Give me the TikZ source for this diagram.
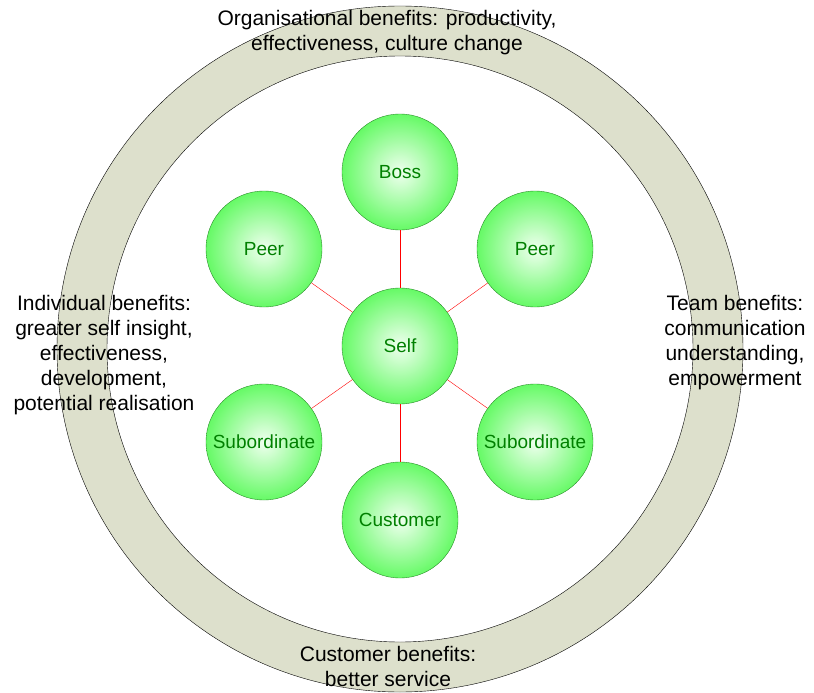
\documentclass[tikz,border=0pt]{standalone}
\usepackage{fontspec}
\setmainfont{Liberation Sans}
\usepackage{tikz}
\usepackage{xcolor}
\usetikzlibrary{calc}
\definecolor{ringfill}{RGB}{221,224,204}
\definecolor{ballgreen}{RGB}{102,250,102}
\definecolor{balltext}{RGB}{0,128,0}
\definecolor{ballline}{RGB}{40,140,40}

\begin{document}
\begin{tikzpicture}[x=1pt,y=-1pt]
        \tikzstyle{ball}=[draw=ballline,circle,minimum size=116pt,inner sep=0pt,
            inner color=green!6!white,outer color=ballgreen,
            text=balltext,font=\fontsize{19}{22}\selectfont]
        \tikzstyle{benefit}=[align=center,inner sep=0pt,font=\fontsize{21}{25}\selectfont]
        \useasboundingbox (0,0) rectangle (814,693);

        % ring
        \coordinate (c) at (400,349);
        \draw[fill=ringfill,even odd rule] (c) circle (343pt) (c) circle (293pt);

        \node[ball] (1) at (400,346) {Self};
        \node[ball] (2) at ($(1)+(0,-174)$) {Boss};
        \node[ball] (3) at ($(1)+(-136,-97)$) {Peer};
        \node[ball] (4) at ($(1)+(135,-97)$) {Peer};
        \node[ball] (5) at ($(1)+(-136,96)$) {Subordinate};
        \node[ball] (6) at ($(1)+(135,96)$) {Subordinate};
        \node[ball] (7) at ($(1)+(0,174)$) {Customer};

        \draw[red] (1) to (2);
        \draw[red] (1) to (3);
        \draw[red] (1) to (4);
        \draw[red] (1) to (5);
        \draw[red] (1) to (6);
        \draw[red] (1) to (7);

        \node[benefit] (8) at (387,33) {Organisational benefits: productivity,\\effectiveness, culture change};
        \node[benefit] (9) at (104,355) {Individual benefits:\\greater self insight,\\effectiveness,\\development,\\potential realisation};
        \node[benefit] (10) at (735,343) {Team benefits:\\communication\\understanding,\\empowerment};
        \node[benefit] (11) at (388,666) {Customer benefits:\\better service};
    \end{tikzpicture}
\end{document}
